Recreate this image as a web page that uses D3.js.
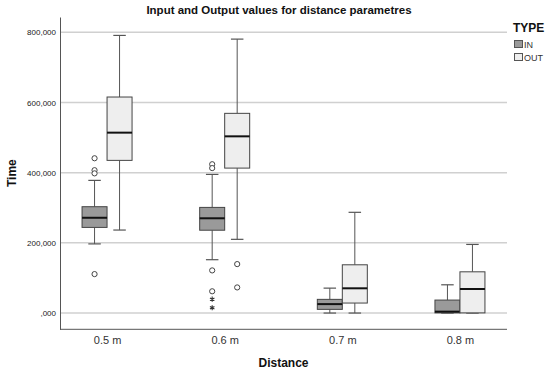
<!DOCTYPE html>
<html><head><meta charset="utf-8">
<script src="https://cdn.jsdelivr.net/npm/d3@7"></script>
<style>body{margin:0;background:#fff;}svg{display:block;font-family:"Liberation Sans",Arial,sans-serif;}</style>
</head><body><svg id="c" width="550" height="372"></svg>
<script>
const categories = ["0.5 m","0.6 m","0.7 m","0.8 m"];
const types = ["IN","OUT"];
const yTicks = [0,200,400,600,800];

const inLow     = [197, 152, 0, 0];
const inQ1      = [244, 236, 10.5, 0.5];
const inMedian  = [271.5, 270, 25.5, 4];
const inQ3      = [303, 301, 39, 37];
const inHigh    = [378, 395, 71, 80.5];
const inOutliers = [[441, 407, 398, 111], [424, 413, 121.5, 62], [], []];
const inExtremes = [[], [39.5, 15], [], []];

const outLow    = [236.5, 210, 0, 0];
const outQ1     = [435, 413, 28.5, 0.5];
const outMedian = [514, 503.5, 70.5, 68.5];
const outQ3     = [615.5, 569, 137.5, 117.5];
const outHigh   = [791, 780.5, 287, 195.5];
const outOutliers = [[], [139.5, 73], [], []];
const outExtremes = [[], [], [], []];

const fills = {IN:"#9a9a9a", OUT:"#eeeeee"};

const svg = d3.select("#c");
const L = 60, R = 507, T = 17, B = 329.3;
const x = d3.scalePoint().domain(categories).range([L, R]).padding(0.4);
const xs = d3.scaleBand().domain(types).range([-25, 25]);
const y = d3.scaleLinear().domain([-46.3, 843.5]).range([B, T]);

const loc = d3.formatLocale({decimal:",", thousands:".", grouping:[3], currency:["",""]});
const fmt = v => loc.format(".3f")(v).replace(/^0,/, ",");

// gridlines
svg.append("g").selectAll("line").data(yTicks).join("line")
  .attr("x1", L).attr("x2", R).attr("y1", d => y(d)).attr("y2", d => y(d))
  .attr("stroke", "#d0d0d0").attr("stroke-width", 1.5);

// y axis
const ya = svg.append("g").attr("transform", `translate(${L},0)`)
  .call(d3.axisLeft(y).tickValues(yTicks).tickFormat(fmt).tickSize(0).tickPadding(4));
ya.select(".domain").attr("stroke", "#555");
ya.selectAll("text").attr("font-size", 8).attr("fill", "#222").attr("font-family", "Liberation Sans, Arial, sans-serif");

// x axis
const xa = svg.append("g").attr("transform", `translate(0,${B})`)
  .call(d3.axisBottom(x).tickSize(0).tickPadding(7));
xa.select(".domain").attr("stroke", "#555").attr("d", `M${L},0H${R}`);
xa.selectAll("text").attr("font-size", 11).attr("fill", "#333").attr("font-family", "Liberation Sans, Arial, sans-serif");

const stats = [];
categories.forEach((c, i) => {
  stats.push({c, t:"IN", low:inLow[i], q1:inQ1[i], med:inMedian[i], q3:inQ3[i], high:inHigh[i], out:inOutliers[i], ext:inExtremes[i]});
  stats.push({c, t:"OUT", low:outLow[i], q1:outQ1[i], med:outMedian[i], q3:outQ3[i], high:outHigh[i], out:outOutliers[i], ext:outExtremes[i]});
});

const bw = xs.bandwidth();
const g = svg.append("g");
stats.forEach(s => {
  const x0 = x(s.c) + xs(s.t), xc = x0 + bw/2;
  const gg = g.append("g");
  gg.append("line").attr("x1", xc).attr("x2", xc).attr("y1", y(s.low)).attr("y2", y(s.q1)).attr("stroke", "#555");
  gg.append("line").attr("x1", xc).attr("x2", xc).attr("y1", y(s.q3)).attr("y2", y(s.high)).attr("stroke", "#555");
  [s.low, s.high].forEach(v => gg.append("line").attr("x1", xc - bw/4).attr("x2", xc + bw/4)
    .attr("y1", y(v)).attr("y2", y(v)).attr("stroke", "#555").attr("stroke-width", 1.2));
  gg.append("rect").attr("x", x0).attr("width", bw).attr("y", y(s.q3)).attr("height", y(s.q1) - y(s.q3))
    .attr("fill", fills[s.t]).attr("stroke", "#444").attr("stroke-width", 1);
  gg.append("line").attr("x1", x0).attr("x2", x0 + bw).attr("y1", y(s.med)).attr("y2", y(s.med))
    .attr("stroke", "#111").attr("stroke-width", 2);
  s.out.forEach(v => gg.append("circle").attr("cx", xc).attr("cy", y(v)).attr("r", 2.6)
    .attr("fill", "#fff").attr("stroke", "#444").attr("stroke-width", 1));
  s.ext.forEach(v => gg.append("path").attr("d", d3.symbol(d3.symbolAsterisk, 18)())
    .attr("transform", `translate(${xc},${y(v)})`).attr("fill", "none").attr("stroke", "#333").attr("stroke-width", 1.1));
});

// title
svg.append("text").attr("x", 279).attr("y", 14).attr("text-anchor", "middle")
  .attr("font-size", 11.5).attr("font-weight", "bold").attr("fill", "#111")
  .text("Input and Output values for distance parametres");
// axis titles
svg.append("text").attr("transform", `translate(16,${(T+B)/2}) rotate(-90)`).attr("text-anchor", "middle")
  .attr("font-size", 12).attr("font-weight", "bold").attr("fill", "#111").text("Time");
svg.append("text").attr("x", (L+R)/2).attr("y", 367).attr("text-anchor", "middle")
  .attr("font-size", 12).attr("font-weight", "bold").attr("fill", "#111").text("Distance");

// legend
svg.append("text").attr("x", 513).attr("y", 32).attr("font-size", 12).attr("font-weight", "bold").attr("fill", "#111").text("TYPE");
types.forEach((t, i) => {
  svg.append("rect").attr("x", 514.5).attr("y", 40.5 + i*13).attr("width", 8).attr("height", 7)
    .attr("fill", fills[t]).attr("stroke", "#555");
  svg.append("text").attr("x", 524).attr("y", 48 + i*13).attr("font-size", 9).attr("fill", "#333").text(t);
});
</script></body></html>
